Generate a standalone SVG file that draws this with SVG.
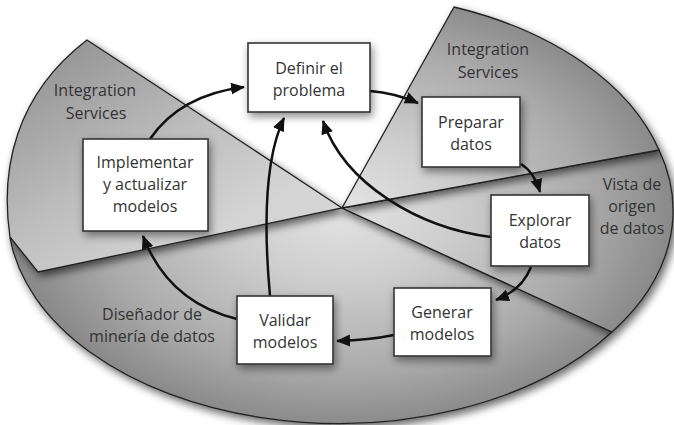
<svg xmlns="http://www.w3.org/2000/svg" width="674" height="425" viewBox="0 0 674 425">
<defs>
<radialGradient id="pie" gradientUnits="userSpaceOnUse" cx="342" cy="208" r="330" gradientTransform="translate(342 208) scale(1 0.66) translate(-342 -208)">
<stop offset="0" stop-color="#e4e4e4"/>
<stop offset="0.35" stop-color="#cdcdcd"/>
<stop offset="0.75" stop-color="#aaaaaa"/>
<stop offset="1" stop-color="#8a8a8a"/>
</radialGradient>
<linearGradient id="leftg" gradientUnits="userSpaceOnUse" x1="70" y1="50" x2="190" y2="250">
<stop offset="0" stop-color="#979797"/>
<stop offset="0.55" stop-color="#bdbdbd"/>
<stop offset="1" stop-color="#d4d4d4"/>
</linearGradient>
<filter id="sh" x="-10%" y="-10%" width="125%" height="130%">
<feGaussianBlur in="SourceAlpha" stdDeviation="4"/>
<feOffset dx="3" dy="4" result="b"/>
<feComponentTransfer><feFuncA type="linear" slope="0.6"/></feComponentTransfer>
<feMerge><feMergeNode/><feMergeNode in="SourceGraphic"/></feMerge>
</filter>
<filter id="bsh" x="-20%" y="-20%" width="150%" height="160%">
<feGaussianBlur in="SourceAlpha" stdDeviation="4"/>
<feOffset dx="2" dy="4"/>
<feComponentTransfer><feFuncA type="linear" slope="0.45"/></feComponentTransfer>
<feMerge><feMergeNode/><feMergeNode in="SourceGraphic"/></feMerge>
</filter>
<marker id="ah" markerUnits="userSpaceOnUse" markerWidth="16" markerHeight="14" refX="13" refY="6" orient="auto">
<path d="M0,0 L14,6 L0,12 Z" fill="#111"/>
</marker>
<style>
.piece{fill:url(#pie);stroke:#222;stroke-width:1.3;filter:url(#sh)}
#sector-left{fill:url(#leftg)}
.box{fill:#fff;stroke:#333;stroke-width:1.6;filter:url(#bsh)}
text{font-family:"Open Sans","Noto Sans","Liberation Sans",sans-serif;font-size:16px;fill:#333;text-anchor:middle}
.conn path{fill:none;stroke:#111;stroke-width:2.5;marker-end:url(#ah)}
</style>
</defs>
<rect width="674" height="425" fill="#fff"/>
<g id="sectors">
<path id="sector-bottom" class="piece" d="M342,208 L612,332 A331,210 0 0 1 10,238 Z"/>
<path id="sector-right" class="piece" d="M342,208 L659,150 A331,210 0 0 1 612,332 Z"/>
<path id="sector-topright" class="piece" d="M342,208 L454,7 A335,215 0 0 1 659,150 Z"/>
<path id="sector-left" class="piece" d="M342,208 L87,40 C15,95 0,170 10,237 L38,272 Z"/>
</g>
<g id="sector-labels">
<text x="95" y="96">Integration</text>
<text x="96" y="119">Services</text>
<text x="488" y="55">Integration</text>
<text x="488" y="78">Services</text>
<text x="632" y="190">Vista de</text>
<text x="632" y="212">origen</text>
<text x="632" y="234">de datos</text>
<text x="152" y="320">Diseñador de</text>
<text x="152" y="342">minería de datos</text>
</g>
<g id="connectors" class="conn">
<path d="M150,139 Q180,95 244,87"/>
<path d="M370,91 Q395,93 418,103"/>
<path d="M521,164 Q534,172 540,192"/>
<path d="M491,237 C420,228 345,185 323,121"/>
<path d="M531,267 Q522,290 496,300"/>
<path d="M394,335 Q370,340 337,341"/>
<path d="M237,319 Q168,302 143,236"/>
<path d="M270,296 C264,230 264,160 284,118"/>
</g>
<g id="node-definir">
<rect class="box" x="248" y="43" width="122" height="69"/>
<text x="309" y="74">Definir el</text>
<text x="309" y="96">problema</text>
</g>
<g id="node-implementar">
<rect class="box" x="83" y="139" width="125" height="92"/>
<text x="145" y="168">Implementar</text>
<text x="145" y="190">y actualizar</text>
<text x="145" y="212">modelos</text>
</g>
<g id="node-preparar">
<rect class="box" x="422" y="97" width="98" height="70"/>
<text x="471" y="128">Preparar</text>
<text x="471" y="150">datos</text>
</g>
<g id="node-explorar">
<rect class="box" x="491" y="195" width="98" height="71"/>
<text x="540" y="226">Explorar</text>
<text x="540" y="248">datos</text>
</g>
<g id="node-generar">
<rect class="box" x="394" y="288" width="97" height="68"/>
<text x="442" y="318">Generar</text>
<text x="442" y="340">modelos</text>
</g>
<g id="node-validar">
<rect class="box" x="237" y="296" width="96" height="68"/>
<text x="285" y="326">Validar</text>
<text x="285" y="348">modelos</text>
</g>
</svg>
